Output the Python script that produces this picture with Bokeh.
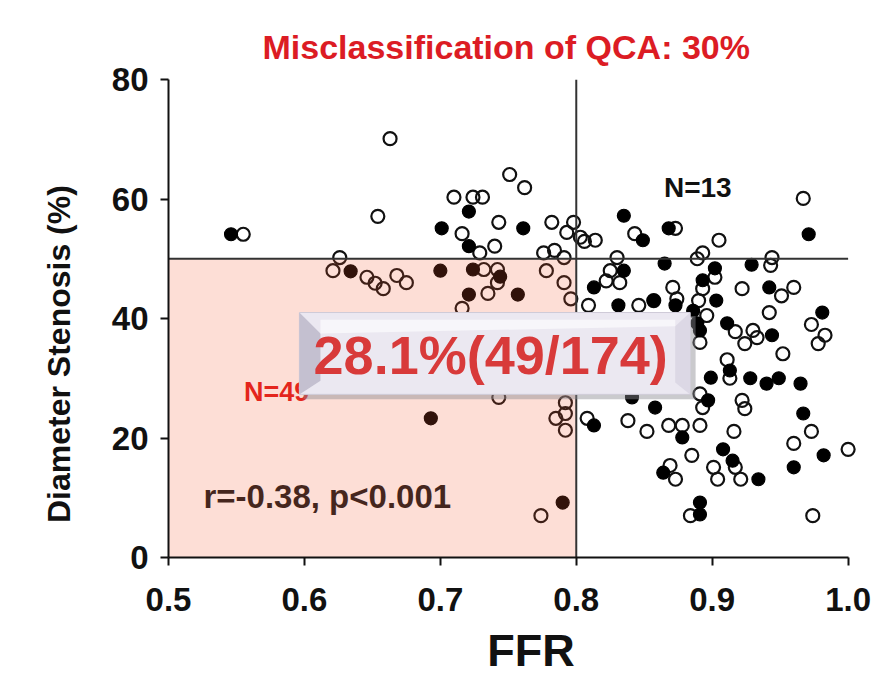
from bokeh.plotting import figure
from bokeh.models import Range1d, Label, FixedTicker
from bokeh.core.properties import value
from bokeh.embed import file_html
from bokeh.resources import INLINE

# ---------------- data ----------------
open_ffr = [0.555, 0.663, 0.654, 0.626, 0.621, 0.646, 0.652, 0.658, 0.668, 0.675,
            0.751, 0.762, 0.710, 0.724, 0.731, 0.743, 0.782, 0.716, 0.729, 0.740,
            0.798, 0.793, 0.803, 0.806, 0.814, 0.776, 0.784, 0.791, 0.732, 0.742,
            0.742, 0.735, 0.778, 0.791, 0.796, 0.716, 0.743, 0.792, 0.792, 0.785,
            0.792, 0.774, 0.873, 0.843, 0.905, 0.893, 0.889, 0.830, 0.967, 0.944,
            0.943, 0.825, 0.822, 0.832, 0.902, 0.893, 0.871, 0.874, 0.922, 0.951,
            0.960, 0.890, 0.809, 0.846, 0.857, 0.896, 0.942, 0.973, 0.983, 0.978,
            0.917, 0.930, 0.933, 0.924, 0.952, 0.891, 0.911, 0.913, 0.922, 0.924,
            0.893, 0.891, 0.808, 0.838, 0.852, 0.868, 0.878, 0.891, 0.916, 0.973,
            0.960, 1.000, 0.885, 0.917, 0.869, 0.873, 0.901, 0.904, 0.921, 0.884,
            0.974]
open_ds = [54.1, 70.1, 57.1, 50.2, 48.0, 46.9, 45.9, 45.0, 47.2, 46.0,
           64.1, 61.9, 60.3, 60.3, 60.3, 56.1, 56.1, 54.2, 51.0, 52.1,
           56.1, 54.4, 53.6, 52.9, 53.1, 51.0, 51.4, 50.2, 48.2, 48.2,
           46.0, 44.2, 48.0, 46.0, 43.3, 41.7, 26.8, 25.9, 24.1, 23.3,
           21.3, 7.0, 55.1, 54.2, 53.1, 51.0, 50.0, 50.2, 60.1, 50.2,
           48.9, 48.0, 46.3, 46.0, 46.9, 45.0, 45.2, 43.3, 45.0, 43.8,
           45.2, 43.0, 42.2, 42.2, 43.0, 40.5, 41.0, 39.0, 37.2, 35.8,
           37.8, 38.0, 36.8, 35.8, 34.1, 36.0, 33.1, 30.0, 26.3, 24.9,
           25.1, 27.4, 23.3, 22.9, 21.1, 22.1, 22.1, 22.1, 21.1, 21.1,
           19.1, 18.1, 17.1, 15.1, 15.4, 13.1, 15.1, 13.1, 13.1, 7.0,
           7.0]

filled_ffr = [0.546, 0.634, 0.700, 0.721, 0.701, 0.761, 0.721, 0.724, 0.744, 0.721,
              0.757, 0.693, 0.790, 0.835, 0.868, 0.849, 0.971, 0.865, 0.835, 0.929,
              0.902, 0.893, 0.813, 0.942, 0.857, 0.903, 0.831, 0.873, 0.886, 0.981,
              0.889, 0.891, 0.911, 0.944, 0.913, 0.899, 0.928, 0.940, 0.949, 0.965,
              0.897, 0.841, 0.858, 0.967, 0.813, 0.878, 0.908, 0.915, 0.982, 0.960,
              0.864, 0.934, 0.891, 0.891]
filled_ds = [54.1, 47.9, 48.0, 57.9, 55.1, 55.1, 52.1, 48.2, 47.0, 44.0,
             44.0, 23.3, 9.2, 57.2, 55.1, 53.1, 54.1, 49.2, 48.0, 49.0,
             48.4, 46.4, 45.2, 45.2, 43.0, 43.0, 42.2, 42.2, 41.3, 41.0,
             39.2, 38.0, 39.2, 37.2, 31.3, 30.1, 30.0, 29.1, 30.0, 29.1,
             26.3, 26.8, 25.1, 24.1, 22.1, 20.1, 18.1, 16.2, 17.1, 15.1,
             14.2, 13.1, 9.2, 7.2]

x_ticks = [0.5, 0.6, 0.7, 0.8, 0.9, 1.0]
x_tick_labels = ["0.5", "0.6", "0.7", "0.8", "0.9", "1.0"]
y_ticks = [0, 20, 40, 60, 80]

ffr_cutoff = 0.8
ds_cutoff = 50
x_min, x_max = 0.5, 1.0
y_min, y_max = 0, 80

title_text = "Misclassification of QCA: 30%"
x_label = "FFR"
y_label = "Diameter Stenosis (%)"
n_upper_text = "N=13"
n_pink_text = "N=49"
corr_text = "r=-0.38, p<0.001"
box_text = "28.1%(49/174)"

FONT = "Liberation Sans"
NBSP = "\u00a0"

# ---------------- figure ----------------
p = figure(width=889, height=699,
           x_range=Range1d(0.5, 1.015), y_range=Range1d(0, 80),
           output_backend="svg", toolbar_location=None,
           min_border_left=168, min_border_right=21,
           min_border_top=79, min_border_bottom=142)
p.grid.visible = False
p.outline_line_color = None
p.background_fill_color = "white"
p.border_fill_color = "white"

# title
p.title.text = title_text
p.title.align = "left"
p.title.offset = 94
p.title.standoff = 28
p.title.text_font = FONT
p.title.text_font_style = "bold"
p.title.text_font_size = "34px"
p.title.text_color = "#dc1c24"

# points
p.scatter(open_ffr, open_ds, marker="circle", size=13, fill_alpha=0,
          line_color="#111111", line_width=2.2)
p.scatter(filled_ffr, filled_ds, marker="circle", size=13, fill_color="#000000",
          line_color="#000000", line_width=1.2)

# texts under the overlays
p.text(x=[0.5257], y=[10.2], text=[corr_text], text_align="left", text_baseline="middle",
       text_font=value(FONT), text_font_style="bold", text_font_size="33px",
       text_color="#1a1a1a")
p.text(x=[0.5555], y=[27.7], text=[n_pink_text], text_align="left", text_baseline="middle",
       text_font=value(FONT), text_font_style="bold", text_font_size="27px",
       text_color="#e01818")
p.text(x=[0.8645], y=[61.9], text=[n_upper_text], text_align="left", text_baseline="middle",
       text_font=value(FONT), text_font_style="bold", text_font_size="28px",
       text_color="#111111")

# pink quadrant (semi-transparent over points)
p.quad(left=[x_min], right=[ffr_cutoff], bottom=[y_min], top=[ds_cutoff],
       fill_color=(245, 90, 50), fill_alpha=0.2, line_color=None)

# cut-off lines
p.segment(x0=[ffr_cutoff, x_min], y0=[y_min, ds_cutoff], x1=[ffr_cutoff, x_max], y1=[y_max, ds_cutoff],
          line_color="#333333", line_width=2)

# bevelled call-out box
BX0, BX1, BY0, BY1 = 0.5963, 0.8838, 27.3, 41.0
p.quad(left=[BX0 + 0.003], right=[BX1 + 0.004], bottom=[BY0 - 0.8], top=[BY1 - 0.6],
       fill_color="#8a8a90", fill_alpha=0.45, line_color=None)
p.quad(left=[BX0], right=[BX1], bottom=[BY0], top=[BY1],
       fill_color="#ebe8f1", line_color="#cfcbd8", line_width=1)
p.patch(x=[BX0, BX0 + 0.0155, BX0 + 0.0155, BX0], y=[BY1, BY1 - 3.5, BY0 + 2.3, BY0],
        fill_color="#c4c0d0", line_color=None)
p.patch(x=[BX1, BX1 - 0.011, BX1 - 0.011, BX1], y=[BY1, BY1 - 2.3, BY0 + 2.0, BY0],
        fill_color="#dcd8e5", line_color=None)
p.patch(x=[BX0 + 0.0155, BX1 - 0.011, BX1 - 0.011, BX0 + 0.0155], y=[BY1 - 3.5, BY1 - 2.3, BY1 - 1.2, BY1 - 1.2],
        fill_color="#f7f6fa", line_color=None)
p.add_layout(Label(x=(BX0 + BX1) / 2 - 0.003, y=33.9, text=box_text, text_align="center",
                   text_baseline="middle", text_font=FONT, text_font_style="bold",
                   text_font_size="54px", text_color="#d83a3a"))

# axes
for ax in (p.xaxis[0], p.yaxis[0]):
    ax.axis_line_width = 2
    ax.axis_line_color = "#111111"
    ax.major_tick_line_width = 2
    ax.major_tick_line_color = "#111111"
    ax.major_tick_out = 8
    ax.major_tick_in = 0
    ax.minor_tick_line_color = None
    ax.major_label_text_font = FONT
    ax.major_label_text_font_style = "bold"
    ax.major_label_text_font_size = "33px"
    ax.major_label_text_color = "#111111"
    ax.axis_label_text_font = FONT
    ax.axis_label_text_font_style = "bold"
    ax.axis_label_text_color = "#111111"

p.xaxis.ticker = FixedTicker(ticks=x_ticks)
p.xaxis.major_label_overrides = {t: s for t, s in zip(x_ticks, x_tick_labels)}
p.xaxis.bounds = (x_min, x_max)
p.xaxis.major_label_standoff = 22
p.xaxis.axis_label = NBSP * 2 + x_label
p.xaxis.axis_label_text_font_size = "45px"
p.xaxis.axis_label_standoff = 11

p.yaxis.ticker = FixedTicker(ticks=y_ticks)
p.yaxis.bounds = (y_min, y_max)
p.yaxis.major_label_standoff = 12
p.yaxis.axis_label = y_label + NBSP * 8
p.yaxis.axis_label_text_font_size = "32px"
p.yaxis.axis_label_standoff = 32

open("out.html", "w").write(file_html(p, INLINE))
